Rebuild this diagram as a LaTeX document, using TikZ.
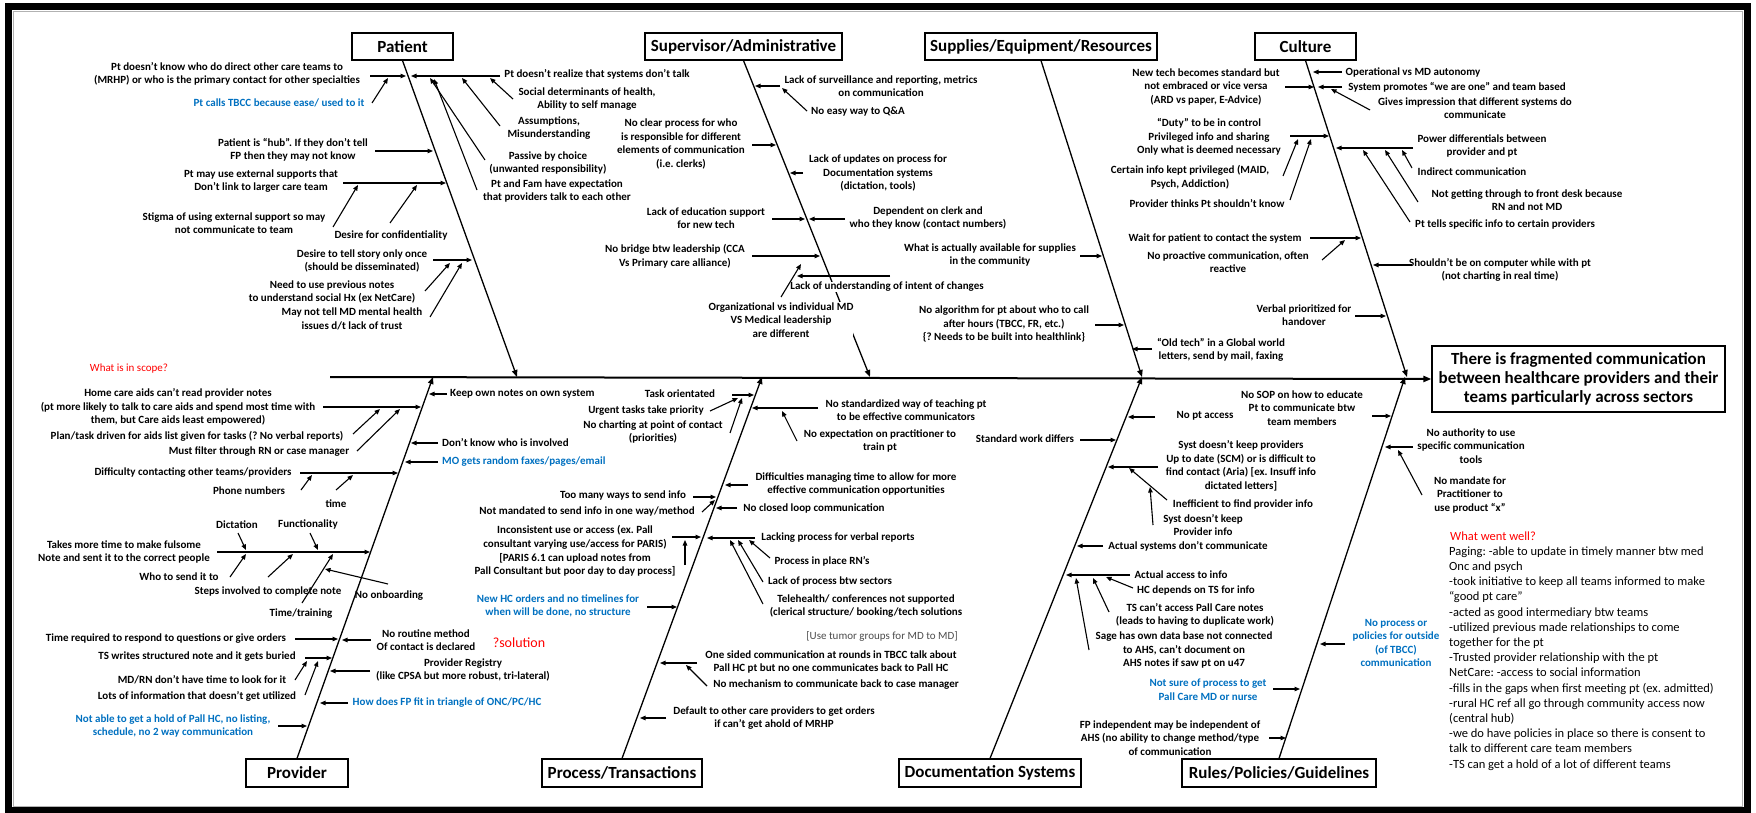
\documentclass[tikz,border=0pt]{standalone}
\usepackage{fontspec}
\setmainfont{Carlito}
\usetikzlibrary{arrows.meta}
\definecolor{obl}{HTML}{0070C0}
\definecolor{ored}{HTML}{FF0000}
\frenchspacing
\begin{document}
\begin{tikzpicture}[x=1pt,y=-1pt,
  lbl/.style={font=\bfseries\fontsize{11}{13.6}\selectfont, align=center, inner sep=0pt},
  blu/.style={lbl, text=obl},
  wlbl/.style={lbl, fill=white},
  redt/.style={font=\fontsize{11}{13}\selectfont, text=ored, inner sep=0pt},
  cat/.style={draw, line width=1.1pt, fill=white, font=\bfseries\fontsize{17}{20}\selectfont, inner sep=0pt, minimum height=27pt},
  arr/.style={-{Triangle[length=5.5pt,width=4.5pt]}, line width=1.1pt},
  bone/.style={-{Triangle[length=7pt,width=5.5pt]}, line width=1.3pt},
]
\useasboundingbox (0,0) rectangle (1756,813);
% frame
\draw[line width=7pt] (8.5,6.5) rectangle (1747.5,810.5);
\draw[gray!60, line width=0.8pt] (13,11) rectangle (1742.5,806);

% category boxes
\node[cat, minimum width=101pt] (patient) at (402.5,46.5) {Patient};
\node[cat, minimum width=197pt] (superv) at (743.5,46.5) {Supervisor/Administrative};
\node[cat, minimum width=232pt] (supply) at (1041,46.5) {Supplies/Equipment/Resources};
\node[cat, minimum width=101pt] (culture) at (1305.5,46.5) {Culture};
\node[cat, minimum width=102pt, minimum height=28pt] (provider) at (297,773) {Provider};
\node[cat, minimum width=160pt, minimum height=28pt] (process) at (622,773) {Process/Transactions};
\node[cat, minimum width=182pt, minimum height=28pt] (docsys) at (990,773) {Documentation Systems};
\node[cat, minimum width=194pt, minimum height=28pt] (rules) at (1279,773) {Rules/Policies/Guidelines};
\node[draw, line width=1.2pt, minimum width=293pt, minimum height=66pt, align=center, inner sep=0pt,
  font=\bfseries\fontsize{17}{19}\selectfont] (effect) at (1578.5,379)
  {There is fragmented communication\\between healthcare providers and their\\teams particularly across sectors};

% spine and bones
\coordinate (spineL) at (330,377);
\coordinate (jPat) at (517,377);
\coordinate (jSup) at (870,377);
\coordinate (jSupl) at (1142,377);
\coordinate (jCul) at (1407,377);
\coordinate (jPro) at (433,377);
\coordinate (jPrc) at (762,377);
\coordinate (jDoc) at (1142,377);
\coordinate (jRul) at (1405,377);
\draw[line width=2pt, -{Triangle[length=8pt,width=6pt]}] (spineL) -- (effect.west);
\draw[bone] (patient.south) -- (jPat);
\draw[bone] (superv.south) -- (jSup);
\draw[bone] (supply.south) -- (jSupl);
\draw[bone] (culture.south) -- (jCul);
\draw[bone] (provider.north) -- (jPro);
\draw[bone] (process.north) -- (jPrc);
\draw[bone] (docsys.north) -- (jDoc);
\draw[bone] (rules.north) -- (jRul);

% ---------------- Patient ----------------
\node[lbl] (p1) at (227,74) {Pt doesn't know who do direct other care teams to\\(MRHP) or who is the primary contact for other specialties};
\node[blu] (p2) at (279,103) {Pt calls TBCC because ease/ used to it};
\node[lbl] (p3) at (293,150) {Patient is ``hub''. If they don't tell\\FP then they may not know};
\node[lbl] (p4) at (261,181) {Pt may use external supports that\\Don't link to larger care team};
\node[lbl] (p5) at (234,223) {Stigma of using external support so may\\not communicate to team};
\node[lbl] (p6) at (391,235) {Desire for confidentiality};
\node[lbl] (p7) at (362,261) {Desire to tell story only once\\(should be disseminated)};
\node[lbl] (p8) at (332,292) {Need to use previous notes\\to understand social Hx (ex NetCare)};
\node[lbl] (p9) at (352,319) {May not tell MD mental health\\issues d/t lack of trust};
\node[lbl] (p10) at (597,74) {Pt doesn't realize that systems don't talk};
\node[lbl] (p11) at (587,99) {Social determinants of health,\\Ability to self manage};
\node[lbl] (p12) at (549,128) {Assumptions,\\Misunderstanding};
\node[lbl] (p13) at (548,163) {Passive by choice\\(unwanted responsibility)};
\node[lbl] (p14) at (557,191) {Pt and Fam have expectation\\that providers talk to each other};
\draw[arr] (370,76) -- (406,76);
\draw[arr] (500,76) -- (411,76);
\draw[arr] (372,103) -- (388,78);
\draw[arr] (513,99) -- (490,78);
\draw[arr] (500,126) -- (462,78);
\draw[arr] (485,160) -- (430,78);
\draw[arr] (477,190) -- (434,79);
\draw[arr] (375,151) -- (433,151);
\draw[arr] (343,183) -- (446,183);
\draw[arr] (333,227) -- (358,185);
\draw[arr] (390,223) -- (417,185);
\draw[arr] (433,260) -- (472,260);
\draw[arr] (425,291) -- (450,263);
\draw[arr] (430,317) -- (462,263);

% ---------------- Supervisor ----------------
\node[lbl] (s1) at (681,144) {No clear process for who\\is responsible for different\\elements of communication\\(i.e. clerks)};
\node[lbl] (s2) at (881,86) {Lack of surveillance and reporting, metrics\\on communication};
\node[lbl] (s3) at (858,112) {No easy way to Q\&A};
\node[lbl] (s4) at (878,173) {Lack of updates on process for\\Documentation systems\\(dictation, tools)};
\node[lbl] (s5) at (706,218) {Lack of education support\\for new tech};
\node[lbl] (s6) at (928,218) {Dependent on clerk and\\who they know (contact numbers)};
\node[lbl] (s7) at (675,256) {No bridge btw leadership (CCA\\Vs Primary care alliance)};
\draw[arr] (780,86) -- (755,86);
\draw[arr] (807,111) -- (782,88);
\draw[arr] (752,145) -- (776,145);
\draw[arr] (803,173) -- (790,173);
\draw[arr] (772,219) -- (805,219);
\draw[arr] (845,219) -- (809,219);
\draw[arr] (752,256) -- (820,256);
\draw[arr] (890,276) -- (797,276);
\node[wlbl] (s8) at (887,287) {Lack of understanding of intent of changes};
\node[wlbl] (s9) at (781,320) {Organizational vs individual MD\\VS Medical leadership\\are different};
\draw[arr] (781,297) -- (801,264);

% ---------------- Supplies ----------------
\node[lbl] (u1) at (990,255) {What is actually available for supplies\\in the community};
\node[lbl] (u2) at (1004,324) {No algorithm for pt about who to call\\after hours (TBCC, FR, etc.)\\\{? Needs to be built into healthlink\}};
\node[lbl] (u3) at (1221,350) {``Old tech'' in a Global world\\letters, send by mail, faxing};
\draw[arr] (1080,256) -- (1102,256);
\draw[arr] (1095,325) -- (1124,325);
\draw[arr] (1152,349) -- (1132,349);

% ---------------- Culture ----------------
\node[lbl] (c1) at (1206,87) {New tech becomes standard but\\not embraced or vice versa\\(ARD vs paper, E-Advice)};
\node[lbl] (c2) at (1413,72) {Operational vs MD autonomy};
\node[lbl] (c3) at (1457,87) {System promotes ``we are one'' and team based};
\node[lbl] (c4) at (1475,108) {Gives impression that different systems do\\communicate};
\node[lbl] (c5) at (1209,137) {``Duty'' to be in control\\Privileged info and sharing\\Only what is deemed necessary};
\node[lbl] (c6) at (1190,177) {Certain info kept privileged (MAID,\\Psych, Addiction)};
\node[lbl] (c7) at (1207,204) {Provider thinks Pt shouldn't know};
\node[lbl] (c8) at (1482,146) {Power differentials between\\provider and pt};
\node[lbl] (c9) at (1472,172) {Indirect communication};
\node[lbl] (c10) at (1527,200) {Not getting through to front desk because\\RN and not MD};
\node[lbl] (c11) at (1505,224) {Pt tells specific info to certain providers};
\node[lbl] (c12) at (1215,238) {Wait for patient to contact the system};
\node[lbl] (c13) at (1228,262) {No proactive communication, often\\reactive};
\node[lbl] (c14) at (1500,270) {Shouldn't be on computer while with pt\\(not charting in real time)};
\node[lbl] (c15) at (1304,315) {Verbal prioritized for\\handover};
\draw[arr] (1342,72) -- (1313,72);
\draw[arr] (1285,87) -- (1314,87);
\draw[arr] (1342,87) -- (1318,87);
\draw[arr] (1370,110) -- (1331,89);
\draw[arr] (1290,136) -- (1329,136);
\draw[arr] (1283,176) -- (1298,139);
\draw[arr] (1290,200) -- (1311,139);
\draw[arr] (1413,148) -- (1336,148);
\draw[arr] (1412,168) -- (1402,150);
\draw[arr] (1418,202) -- (1385,150);
\draw[arr] (1410,222) -- (1363,150);
\draw[arr] (1310,238) -- (1361,238);
\draw[arr] (1322,260) -- (1345,240);
\draw[arr] (1412,265) -- (1373,265);
\draw[arr] (1355,316) -- (1386,316);

% ---------------- Provider ----------------
\node[redt] (v1) at (129,369) {What is in scope?};
\node[lbl] (v2) at (178,407) {Home care aids can't read provider notes\\(pt more likely to talk to care aids and spend most time with\\them, but Care aids least empowered)};
\node[lbl] (v3) at (197,436) {Plan/task driven for aids list given for tasks (? No verbal reports)};
\node[lbl] (v4) at (259,452) {Must filter through RN or case manager};
\node[lbl, anchor=west] (v5) at (450,394) {Keep own notes on own system};
\node[lbl, anchor=west] (v6) at (442,443) {Don't know who is involved};
\node[blu, anchor=west] (v7) at (442,462) {MO gets random faxes/pages/email};
\node[lbl] (v8) at (193,473) {Difficulty contacting other teams/providers};
\node[lbl] (v9) at (249,491) {Phone numbers};
\node[lbl] (v10) at (336,504) {time};
\node[lbl] (v11) at (237,525) {Dictation};
\node[lbl] (v12) at (308,524) {Functionality};
\node[lbl] (v13) at (124,552) {Takes more time to make fulsome\\Note and sent it to the correct people};
\node[lbl] (v14) at (179,577) {Who to send it to};
\node[lbl] (v15) at (268,592) {Steps involved to complete note};
\node[lbl] (v16) at (301,614) {Time/training};
\node[lbl] (v17) at (389,596) {No onboarding};
\node[lbl] (v18) at (166,639) {Time required to respond to questions or give orders};
\node[lbl] (v19) at (426,640) {No routine method\\Of contact is declared};
\node[lbl] (v20) at (197,657) {TS writes structured note and it gets buried};
\node[lbl] (v21) at (202,680) {MD/RN don't have time to look for it};
\node[lbl] (v22) at (197,696) {Lots of information that doesn't get utilized};
\node[lbl] (v23) at (463,670) {Provider Registry\\(like CPSA but more robust, tri-lateral)};
\node[blu] (v24) at (447,703) {How does FP fit in triangle of ONC/PC/HC};
\node[blu] (v25) at (173,726) {Not able to get a hold of Pall HC, no listing,\\schedule, no 2 way communication};
\draw[arr] (323,407) -- (421,407);
\draw[arr] (353,434) -- (380,409);
\draw[arr] (357,451) -- (400,409);
\draw[arr] (447,394) -- (429,394);
\draw[arr] (438,443) -- (411,443);
\draw[arr] (438,462) -- (405,462);
\draw[arr] (300,473) -- (398,473);
\draw[arr] (301,490) -- (312,475);
\draw[arr] (336,490) -- (353,475);
\draw[arr] (217,552) -- (370,552);
\draw[arr] (238,533) -- (246,550);
\draw[arr] (310,533) -- (318,550);
\draw[arr] (230,577) -- (246,554);
\draw[arr] (268,577) -- (293,554);
\draw[arr] (302,603) -- (333,554);
\draw[arr] (388,584) -- (325,569);
\draw[arr] (295,639) -- (338,639);
\draw[arr] (371,640) -- (342,640);
\draw[arr] (305,658) -- (332,658);
\draw[arr] (295,680) -- (307,661);
\draw[arr] (305,695) -- (318,661);
\draw[arr] (370,671) -- (330,671);
\draw[arr] (348,703) -- (320,703);
\draw[arr] (278,726) -- (307,726);

% ---------------- Process ----------------
\node[lbl] (t1) at (680,394) {Task orientated};
\node[lbl] (t2) at (646,411) {Urgent tasks take priority};
\node[lbl] (t3) at (653,432) {No charting at point of contact\\(priorities)};
\node[lbl] (t4) at (906,410) {No standardized way of teaching pt\\to be effective communicators};
\node[lbl] (t5) at (880,441) {No expectation on practitioner to\\train pt};
\node[lbl] (t6) at (856,484) {Difficulties managing time to allow for more\\effective communication opportunities};
\node[lbl] (t7) at (623,496) {Too many ways to send info};
\node[lbl] (t8) at (587,512) {Not mandated to send info in one way/method};
\node[lbl] (t9) at (814,508) {No closed loop communication};
\node[lbl] (t10) at (575,551) {Inconsistent use or access (ex. Pall\\consultant varying use/access for PARIS)\\{[}PARIS 6.1 can upload notes from\\Pall Consultant but poor day to day process{]}};
\node[lbl] (t11) at (838,538) {Lacking process for verbal reports};
\node[lbl] (t12) at (822,561) {Process in place RN's};
\node[lbl] (t13) at (830,582) {Lack of process btw sectors};
\node[lbl] (t14) at (866,606) {Telehealth/ conferences not supported\\(clerical structure/ booking/tech solutions};
\node[blu] (t15) at (558,606) {New HC orders and no timelines for\\when will be done, no structure};
\node[font=\fontsize{14}{16}\selectfont, text=ored, inner sep=0pt] (t16) at (519,643) {?solution};
\node[font=\fontsize{11}{13}\selectfont, text=black!70, inner sep=0pt] (t17) at (882,636) {{[}Use tumor groups for MD to MD{]}};
\node[lbl] (t18) at (831,662) {One sided communication at rounds in TBCC talk about\\Pall HC pt but no one communicates back to Pall HC};
\node[lbl] (t19) at (836,685) {No mechanism to communicate back to case manager};
\node[lbl] (t20) at (774,718) {Default to other care providers to get orders\\if can't get ahold of MRHP};
\draw[arr] (732,395) -- (754,395);
\draw[arr] (710,411) -- (738,398);
\draw[arr] (730,433) -- (742,398);
\draw[arr] (818,408) -- (752,408);
\draw[arr] (797,441) -- (782,411);
\draw[arr] (748,485) -- (725,485);
\draw[arr] (693,497) -- (716,497);
\draw[arr] (702,512) -- (715,500);
\draw[arr] (737,508) -- (716,508);
\draw[arr] (672,537) -- (701,537);
\draw[arr] (685,565) -- (685,540);
\draw[arr] (755,538) -- (707,538);
\draw[arr] (770,558) -- (749,540);
\draw[arr] (763,582) -- (738,540);
\draw[arr] (763,604) -- (730,540);
\draw[arr] (647,607) -- (677,607);
\draw[arr] (697,663) -- (660,663);
\draw[arr] (707,686) -- (686,665);
\draw[arr] (666,718) -- (640,718);

% ---------------- Documentation ----------------
\node[lbl] (d1) at (1205,416) {No pt access};
\node[lbl] (d2) at (1025,439) {Standard work differs};
\node[lbl] (d3) at (1241,466) {Syst doesn't keep providers\\Up to date (SCM) or is difficult to\\find contact (Aria) {[}ex. Insuff info\\dictated letters{]}};
\node[lbl] (d4) at (1243,504) {Inefficient to find provider info};
\node[lbl] (d5) at (1203,525) {Syst doesn't keep\\Provider info};
\node[lbl] (d6) at (1188,546) {Actual systems don't communicate};
\node[lbl] (d7) at (1181,575) {Actual access to info};
\node[lbl] (d8) at (1196,591) {HC depends on TS for info};
\node[lbl] (d9) at (1195,615) {TS can't access Pall Care notes\\(leads to having to duplicate work)};
\node[lbl] (d10) at (1184,650) {Sage has own data base not connected\\to AHS, can't document on\\AHS notes if saw pt on u47};
\draw[arr] (1155,417) -- (1128,417);
\draw[arr] (1080,440) -- (1116,440);
\draw[arr] (1158,467) -- (1108,467);
\draw[arr] (1167,500) -- (1129,468);
\draw[arr] (1153,525) -- (1150,487);
\draw[arr] (1103,546) -- (1077,546);
\draw[arr] (1130,575) -- (1066,575);
\draw[arr] (1133,588) -- (1106,577);
\draw[arr] (1109,612) -- (1093,578);
\draw[arr] (1089,650) -- (1076,578);

% ---------------- Rules ----------------
\node[lbl] (r1) at (1302,408) {No SOP on how to educate\\Pt to communicate btw\\team members};
\node[lbl] (r2) at (1471,446) {No authority to use\\specific communication\\tools};
\node[lbl] (r3) at (1470,495) {No mandate for\\Practitioner to\\use product ``x''};
\node[font=\fontsize{12.5}{15}\selectfont, text=ored, inner sep=0pt, anchor=west] (r4) at (1450,536) {What went well?};
\node[font=\fontsize{12.5}{15.2}\selectfont, align=left, inner sep=0pt, anchor=west] (r5) at (1449,658.5) {Paging: -able to update in timely manner btw med\\Onc and psych\\-took initiative to keep all teams informed to make\\``good pt care''\\-acted as good intermediary btw teams\\-utilized previous made relationships to come\\together for the pt\\-Trusted provider relationship with the pt\\NetCare: -access to social information\\-fills in the gaps when first meeting pt (ex. admitted)\\-rural HC ref all go through community access now\\(central hub)\\-we do have policies in place so there is consent to\\talk to different care team members\\-TS can get a hold of a lot of different teams};
\node[blu] (r6) at (1396,643) {No process or\\policies for outside\\(of TBCC)\\communication};
\node[blu] (r7) at (1208,690) {Not sure of process to get\\Pall Care MD or nurse};
\node[lbl] (r8) at (1170,738) {FP independent may be independent of\\AHS (no ability to change method/type\\of communication};
\draw[arr] (1372,416) -- (1391,416);
\draw[arr] (1413,447) -- (1385,447);
\draw[arr] (1422,495) -- (1398,450);
\draw[arr] (1345,644) -- (1320,644);
\draw[arr] (1273,689) -- (1300,689);
\draw[arr] (1269,738) -- (1286,738);
\end{tikzpicture}
\end{document}
